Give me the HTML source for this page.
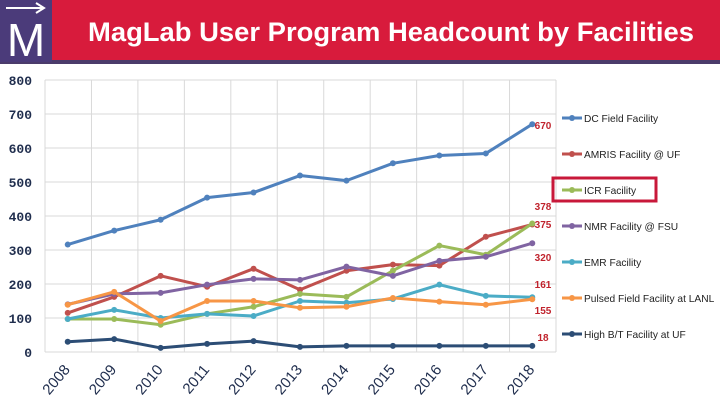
<!DOCTYPE html>
<html><head><meta charset="utf-8"><style>
body{margin:0;width:720px;height:405px;overflow:hidden;background:#fff;font-family:"Liberation Sans",sans-serif}
</style></head><body>
<svg width="720" height="405" xmlns="http://www.w3.org/2000/svg">
<rect x="0" y="0" width="720" height="62" fill="#d81b3c"/>
<rect x="0" y="60" width="720" height="4" fill="#4b3b6b"/>
<rect x="0" y="0" width="52" height="62" fill="#4b3b7a"/>
<text x="26" y="56" text-anchor="middle" fill="#fff" font-size="46" font-family="Liberation Sans">M</text>
<line x1="6" y1="8" x2="42" y2="8" stroke="#fff" stroke-width="2"/>
<path d="M36 3 L44 8 L36 13" fill="none" stroke="#fff" stroke-width="2"/>
<text x="88" y="41" fill="#fff" font-size="27" font-weight="bold" textLength="606" lengthAdjust="spacingAndGlyphs">MagLab User Program Headcount by Facilities</text>
<g id="grid"></g>
<g id="series"></g>
<g id="legend"></g>
<rect x="553" y="178" width="103" height="23" fill="none" stroke="#c8183a" stroke-width="3"/>
</svg>
<script>
const years=["2008","2009","2010","2011","2012","2013","2014","2015","2016","2017","2018"];
const yTicks=[0,100,200,300,400,500,600,700,800];
const names=["DC Field Facility","AMRIS Facility @ UF","ICR Facility","NMR Facility @ FSU","EMR Facility","Pulsed Field Facility at LANL","High B/T Facility at UF"];
const colors=["#4f81bd","#c0504d","#9bbb59","#8064a2","#4bacc6","#f79646","#2c4d75"];
const dc=[316,357,389,454,469,519,504,555,578,584,670];
const amris=[115,162,224,192,245,183,239,257,254,339,375];
const icr=[97,97,80,112,133,171,162,239,313,286,378];
const nmr=[140,171,174,198,215,212,251,224,268,280,320];
const emr=[97,124,100,112,106,150,145,156,198,165,161];
const pulsed=[139,177,91,150,150,130,133,159,148,139,155];
const hbt=[30,38,12,24,32,15,18,18,18,18,18];
const series=[dc,amris,icr,nmr,emr,pulsed,hbt];
const endLabels=[670,375,378,320,161,155,18];
const labelY=[129,228,210,261,288,314,341];
const NS="http://www.w3.org/2000/svg";
const X0=45,X1=556,Y0=352,Y1=80;
const step=(X1-X0)/years.length;
const xs=i=>X0+step*(i+0.5)-0.5;
const ys=v=>Y0-(v/800)*(Y0-Y1);
function mk(t,a,p){const e=document.createElementNS(NS,t);for(const k in a)e.setAttribute(k,a[k]);p.appendChild(e);return e;}
const g=document.getElementById('grid'),s=document.getElementById('series'),lg=document.getElementById('legend');
yTicks.forEach(v=>{
 const l=mk('line',{x1:X0,x2:X1,y1:ys(v),y2:ys(v),stroke:'#d9d9d9','stroke-width':1},g);
 
 
 const t=mk('text',{x:32,y:ys(v)+5,'text-anchor':'end','font-size':13,'font-weight':'bold',fill:'#1f2d4d','font-family':'Liberation Mono'},g);
 t.textContent=v;
 
 
});
for(let i=0;i<=years.length;i++){
 const x=X0+step*i;
 const l=mk('line',{x1:x,x2:x,y1:Y1,y2:Y0,stroke:'#d9d9d9','stroke-width':1},g);
 
 
}
years.forEach((y,i)=>{
 const x=xs(i)+3,yy=370;
 const t=mk('text',{x:x,y:yy,'text-anchor':'end','font-size':15,fill:'#1f2d4d',transform:`rotate(-50 ${x} ${yy})`},g);
 t.textContent=y;
 
 
});
series.forEach((d,k)=>{
 const p=mk('polyline',{points:d.map((v,i)=>xs(i)+','+ys(v)).join(' '),fill:'none',stroke:colors[k],'stroke-width':3,'stroke-linejoin':'round'},s);
 
 
 d.forEach((v,i)=>{
  const c=mk('circle',{cx:xs(i),cy:ys(v),r:3,fill:colors[k]},s);
  
  
 });
 const t=mk('text',{x:543,y:labelY[k],'text-anchor':'middle','font-size':10,'font-weight':'bold',fill:'#c0232d'},s);
 t.textContent=endLabels[k];
 
 
 const ly=118+36*k;
 const ll=mk('line',{x1:562,x2:582,y1:ly,y2:ly,stroke:colors[k],'stroke-width':3},lg);
 
 
 const lc=mk('circle',{cx:572,cy:ly,r:3,fill:colors[k]},lg);
 
 
 const lt=mk('text',{x:584,y:ly+4,'font-size':10.2,fill:'#222'},lg);
 lt.textContent=names[k];
 
 
});
</script>
</body></html>
